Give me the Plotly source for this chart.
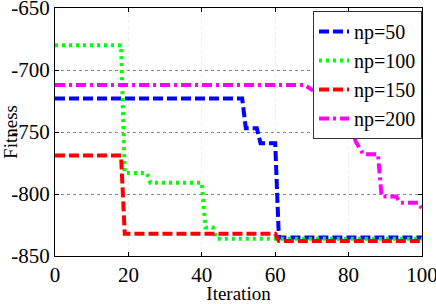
import plotly.graph_objects as go

# np=50
x50 = [0, 51, 52, 55, 56, 60, 61, 100]
y50 = [-723, -723, -747, -747, -759, -759, -835, -835]
# np=100
x100 = [0, 18, 19, 25, 26, 40, 41, 43, 44, 100]
y100 = [-680, -680, -783, -783, -791, -791, -827, -827, -836, -836]
# np=150
x150 = [0, 18, 19, 60, 61, 100]
y150 = [-769, -769, -832, -832, -838, -838]
# np=200
x200 = [0, 68, 70, 74, 75, 80, 82, 84, 88, 89, 93, 94, 99, 100]
y200 = [-712, -712, -716, -716, -735, -740, -758, -768, -768, -802, -802, -807, -807, -812]

names = ["np=50", "np=100", "np=150", "np=200"]
xtick_vals = [0, 20, 40, 60, 80, 100]
xtick_text = ["0", "20", "40", "60", "80", "100"]
ytick_vals = [-650, -700, -750, -800, -850]
ytick_text = ["-650", "-700", "-750", "-800", "-850"]

FONT = "Liberation Serif, Times New Roman, serif"

fig = go.Figure()
fig.add_trace(go.Scatter(x=x50, y=y50, mode="lines", name=names[0],
                         line=dict(color="#0000ff", width=4, dash="10px,4px")))
fig.add_trace(go.Scatter(x=x100, y=y100, mode="lines", name=names[1],
                         line=dict(color="#00ff00", width=4, dash="3px,4px")))
fig.add_trace(go.Scatter(x=x150, y=y150, mode="lines", name=names[2],
                         line=dict(color="#ff0000", width=4, dash="10px,4px")))
fig.add_trace(go.Scatter(x=x200, y=y200, mode="lines", name=names[3],
                         line=dict(color="#ff00ff", width=4, dash="10px,4px,3px,4px")))

axis_common = dict(showline=True, mirror="ticks", linecolor="#000000", linewidth=1,
                   ticks="inside", ticklen=4, tickcolor="#000000",
                   zeroline=False, ticklabeloverflow="allow", automargin=False,
                   tickfont=dict(family=FONT, size=21, color="#000000"))

fig.update_xaxes(range=[0, 100], tickmode="array", tickvals=xtick_vals, ticktext=xtick_text,
                 showgrid=True, gridcolor="#ececec", griddash="dot", gridwidth=1,
                 title=dict(text="Iteration", font=dict(family=FONT, size=19, color="#000"), standoff=2),
                 **axis_common)
fig.update_yaxes(range=[-850, -650], tickmode="array", tickvals=ytick_vals, ticktext=ytick_text,
                 showgrid=True, gridcolor="#888888", griddash="dot", gridwidth=1,
                 title=dict(text="Fitness", font=dict(family=FONT, size=19, color="#000"), standoff=0),
                 **axis_common)

fig.update_layout(
    width=436, height=304,
    font=dict(family=FONT, color="#000"),
    margin=dict(l=55, r=14, t=8, b=48),
    plot_bgcolor="white", paper_bgcolor="white",
    legend=dict(x=1, xanchor="right", y=0.988, yanchor="top",
                bgcolor="white", bordercolor="#333333", borderwidth=1,
                font=dict(family=FONT, size=20, color="#000"),
                tracegroupgap=0, itemwidth=30),
    showlegend=True,
)

fig.write_html("out.html", config={"displayModeBar": False},
               post_script="document.body.style.margin='0';")
